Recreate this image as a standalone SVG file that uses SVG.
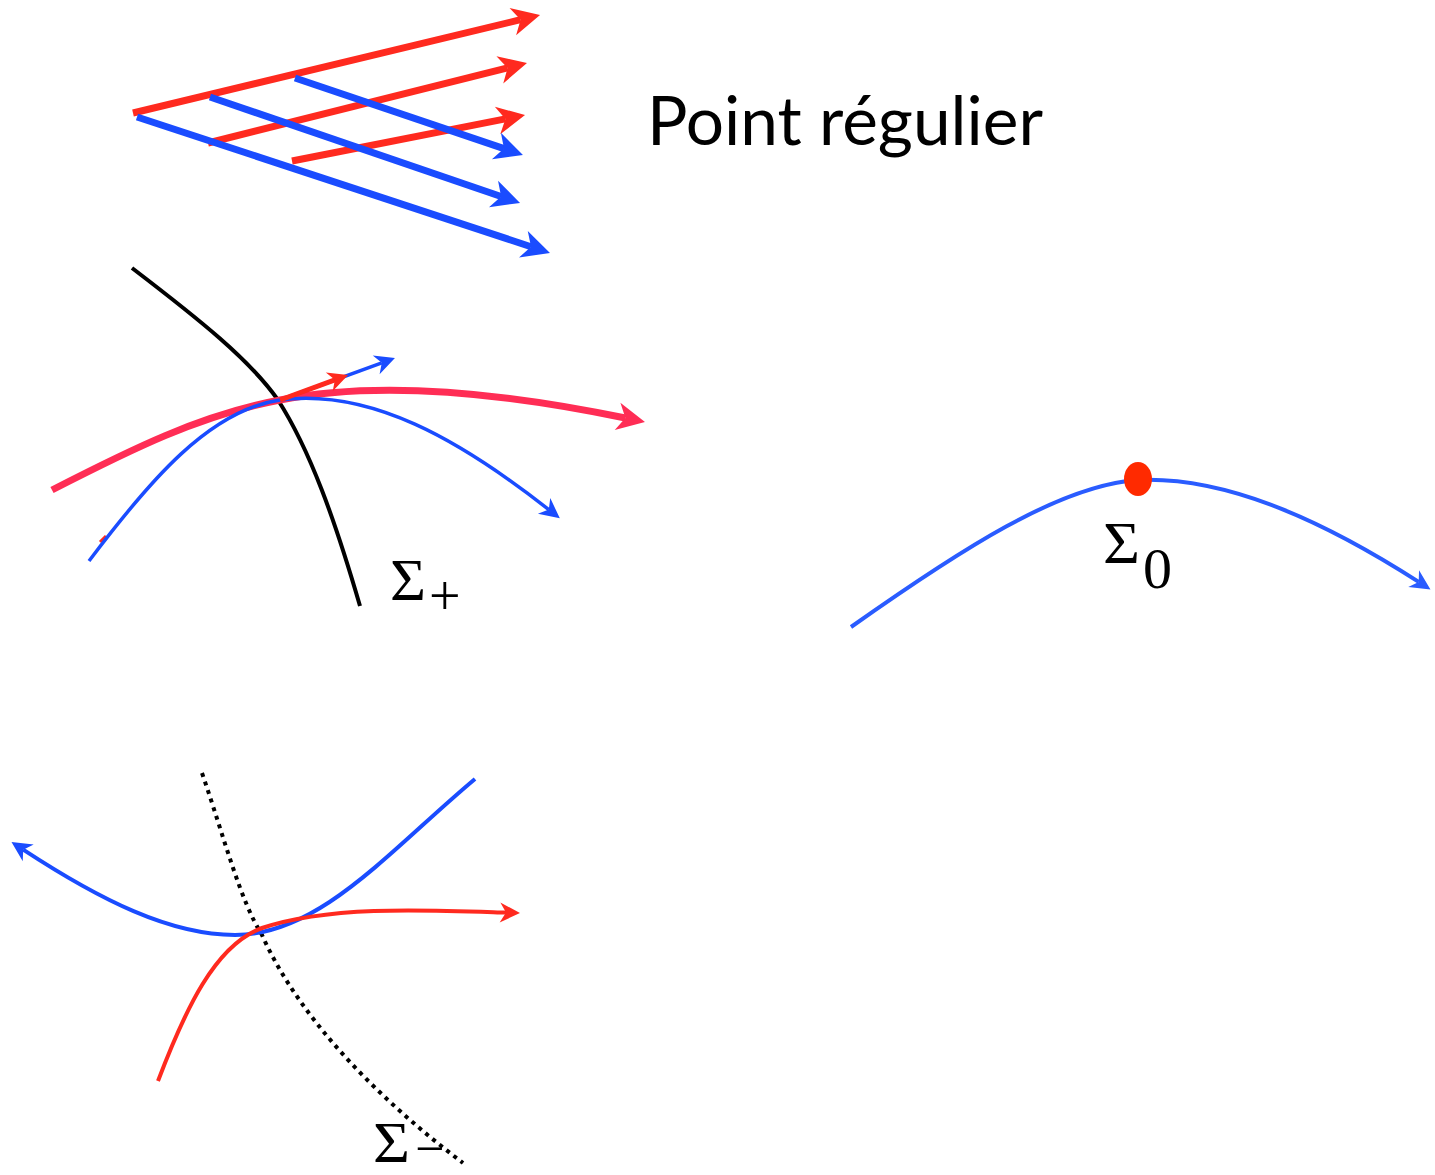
<svg xmlns="http://www.w3.org/2000/svg" width="1435" height="1175" viewBox="0 0 1435 1175">
<style>
.t{fill:none;stroke-linecap:butt}
.red{stroke:#ff2a1f}
.blue{stroke:#1a4cff}
.pink{stroke:#ff2d55}
.blk{stroke:#000}
.w7{stroke-width:7}
.w4{stroke-width:4}
.w3{stroke-width:3.5}
.lbl{font-family:"Liberation Serif","DejaVu Serif",serif;fill:#000}
.title{font-family:"Lato","Open Sans",sans-serif;fill:#000}
</style>
<defs>
<marker id="aRedB" markerUnits="userSpaceOnUse" viewBox="-30 -16 32 32" refX="-20" refY="0" markerWidth="32" markerHeight="32" orient="auto"><path d="M0,0 L-28,-14 L-20,0 L-28,14 Z" fill="#ff2a1f"/></marker>
<marker id="aBlueB" markerUnits="userSpaceOnUse" viewBox="-30 -16 32 32" refX="-20" refY="0" markerWidth="32" markerHeight="32" orient="auto"><path d="M0,0 L-28,-14 L-20,0 L-28,14 Z" fill="#1a4cff"/></marker>
<marker id="aPinkB" markerUnits="userSpaceOnUse" viewBox="-30 -16 32 32" refX="-20" refY="0" markerWidth="32" markerHeight="32" orient="auto"><path d="M0,0 L-28,-14 L-20,0 L-28,14 Z" fill="#ff2d55"/></marker>
<marker id="aBlue" markerUnits="userSpaceOnUse" viewBox="-22 -11 24 22" refX="-14" refY="0" markerWidth="24" markerHeight="22" orient="auto"><path d="M0,0 L-20,-10 L-14,0 L-20,10 Z" fill="#1a4cff"/></marker>
<marker id="aBlue2" markerUnits="userSpaceOnUse" viewBox="-22 -11 24 22" refX="-14" refY="0" markerWidth="24" markerHeight="22" orient="auto"><path d="M0,0 L-20,-10 L-14,0 L-20,10 Z" fill="#2a5cff"/></marker>
<marker id="aRed" markerUnits="userSpaceOnUse" viewBox="-22 -11 24 22" refX="-14" refY="0" markerWidth="24" markerHeight="22" orient="auto"><path d="M0,0 L-20,-10 L-14,0 L-20,10 Z" fill="#ff2a1f"/></marker>
</defs>

<g id="title">
<text class="title" x="647" y="145" font-size="68" textLength="396" lengthAdjust="spacingAndGlyphs">Point régulier</text>
</g>

<g id="regular-point">
<line class="t red w7" x1="133" y1="113" x2="520.6" y2="19.7" marker-end="url(#aRedB)"/>
<line class="t red w7" x1="208" y1="143" x2="507.6" y2="67.9" marker-end="url(#aRedB)"/>
<line class="t red w7" x1="292" y1="161" x2="505.4" y2="118.9" marker-end="url(#aRedB)"/>
<line class="t blue w7" x1="137" y1="117" x2="531" y2="246.7" marker-end="url(#aBlueB)"/>
<line class="t blue w7" x1="210" y1="97" x2="501.1" y2="196.5" marker-end="url(#aBlueB)"/>
<line class="t blue w7" x1="295" y1="78" x2="504" y2="148.6" marker-end="url(#aBlueB)"/>
</g>

<g id="sigma-plus">
<line class="t red" stroke-width="3" x1="100" y1="542" x2="106" y2="536"/>
<path class="t blk w4" d="M132,268 C200,320 250,360 278,400 C310,450 335,520 360,606"/>
<path class="t pink w7" d="M52,490 C130,450 200,415 280,400 C380,380 500,392 625.4,418" marker-end="url(#aPinkB)"/>
<path class="t blue w3" d="M89,561 C150,480 210,410 280,400 C370,388 460,440 548.8,509.6" marker-end="url(#aBlue)"/>
<line class="t blue w3" x1="280" y1="400" x2="381.8" y2="362.8" marker-end="url(#aBlue)"/>
<line class="t red" stroke-width="5" x1="280" y1="400" x2="334.9" y2="379.8" marker-end="url(#aRed)"/>
<text class="lbl" x="390" y="600" font-size="60" textLength="36" lengthAdjust="spacingAndGlyphs">Σ</text>
<text class="lbl" x="429" y="615" font-size="56">+</text>
</g>

<g id="sigma-zero">
<path class="t w4" stroke="#2a5cff" d="M851,627 C960,550 1060,485 1138,480 C1230,476 1330,525 1418.7,581.9" marker-end="url(#aBlue2)"/>
<ellipse cx="1138" cy="479" rx="14" ry="17" fill="#ff2a00"/>
<text class="lbl" x="1103" y="563" font-size="60" textLength="37" lengthAdjust="spacingAndGlyphs">Σ</text>
<text class="lbl" x="1143" y="588" font-size="58">0</text>
</g>

<g id="sigma-minus">
<path class="t blk w4" stroke-dasharray="4 5" d="M202,773 C225,840 240,900 262,935 C300,1020 380,1100 463,1163"/>
<path class="t blue w4" d="M475,779 C390,850 320,935 235,935 C170,935 100,900 23.2,849.7" marker-end="url(#aBlue)"/>
<path class="t red w4" d="M158,1081 C185,1010 215,945 262,928 C330,905 430,910 506,912.6" marker-end="url(#aRed)"/>
<text class="lbl" x="373" y="1162" font-size="58" textLength="37" lengthAdjust="spacingAndGlyphs">Σ</text>
<text class="lbl" x="415" y="1166" font-size="52">−</text>
</g>
</svg>
